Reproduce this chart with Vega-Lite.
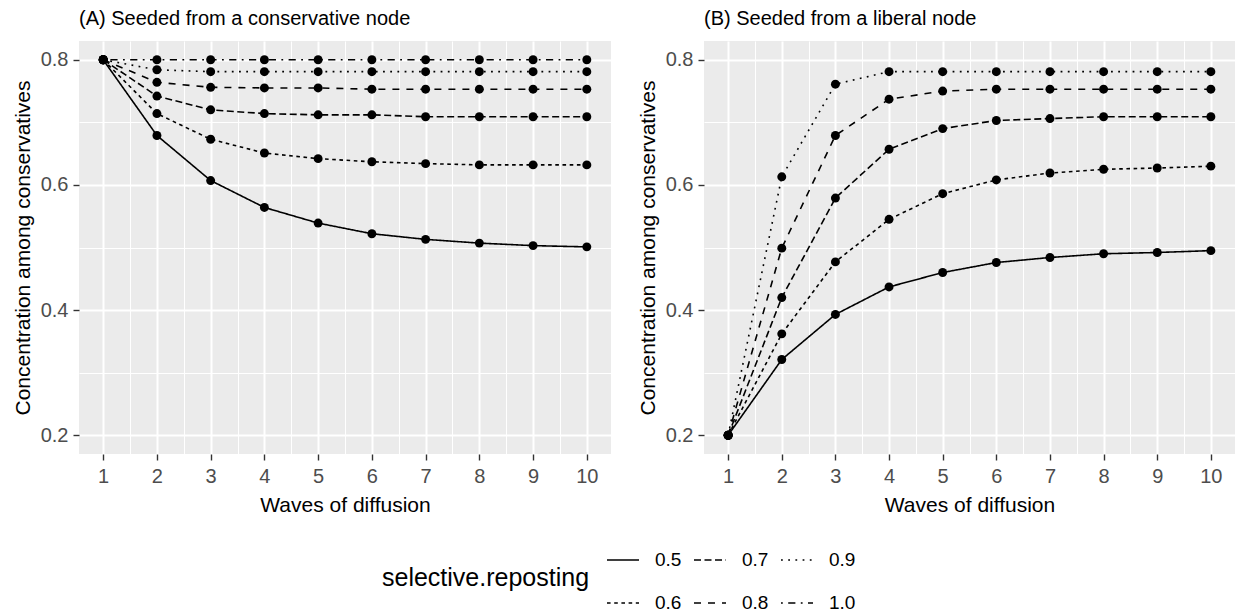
{
  "$schema": "https://vega.github.io/schema/vega-lite/v6.json",
  "padding": {"left": 12, "right": 0, "top": 9, "bottom": 5},
  "background": "white",
  "config": {
    "font": "Liberation Sans",
    "view": {"fill": "#EBEBEB", "stroke": null},
    "axis": {
      "domain": false,
      "labelColor": "#4D4D4D",
      "labelFontSize": 20,
      "labelFont": "Liberation Sans",
      "tickColor": "#333333",
      "tickSize": 6,
      "tickWidth": 1.4,
      "titleColor": "#000000",
      "titleFontSize": 21,
      "titleFontWeight": "normal",
      "titleFont": "Liberation Sans",
      "gridColor": "#FFFFFF"
    }
  },
  "data": {"values": [
    {"panel": "A", "wave": 1, "sr": "0.5", "v": 0.8}, {"panel": "A", "wave": 2, "sr": "0.5", "v": 0.679}, {"panel": "A", "wave": 3, "sr": "0.5", "v": 0.607}, {"panel": "A", "wave": 4, "sr": "0.5", "v": 0.564}, {"panel": "A", "wave": 5, "sr": "0.5", "v": 0.539}, {"panel": "A", "wave": 6, "sr": "0.5", "v": 0.522}, {"panel": "A", "wave": 7, "sr": "0.5", "v": 0.513}, {"panel": "A", "wave": 8, "sr": "0.5", "v": 0.507}, {"panel": "A", "wave": 9, "sr": "0.5", "v": 0.503}, {"panel": "A", "wave": 10, "sr": "0.5", "v": 0.501},
    {"panel": "A", "wave": 1, "sr": "0.6", "v": 0.8}, {"panel": "A", "wave": 2, "sr": "0.6", "v": 0.714}, {"panel": "A", "wave": 3, "sr": "0.6", "v": 0.673}, {"panel": "A", "wave": 4, "sr": "0.6", "v": 0.651}, {"panel": "A", "wave": 5, "sr": "0.6", "v": 0.642}, {"panel": "A", "wave": 6, "sr": "0.6", "v": 0.637}, {"panel": "A", "wave": 7, "sr": "0.6", "v": 0.634}, {"panel": "A", "wave": 8, "sr": "0.6", "v": 0.632}, {"panel": "A", "wave": 9, "sr": "0.6", "v": 0.632}, {"panel": "A", "wave": 10, "sr": "0.6", "v": 0.632},
    {"panel": "A", "wave": 1, "sr": "0.7", "v": 0.8}, {"panel": "A", "wave": 2, "sr": "0.7", "v": 0.742}, {"panel": "A", "wave": 3, "sr": "0.7", "v": 0.720}, {"panel": "A", "wave": 4, "sr": "0.7", "v": 0.714}, {"panel": "A", "wave": 5, "sr": "0.7", "v": 0.712}, {"panel": "A", "wave": 6, "sr": "0.7", "v": 0.712}, {"panel": "A", "wave": 7, "sr": "0.7", "v": 0.709}, {"panel": "A", "wave": 8, "sr": "0.7", "v": 0.709}, {"panel": "A", "wave": 9, "sr": "0.7", "v": 0.709}, {"panel": "A", "wave": 10, "sr": "0.7", "v": 0.709},
    {"panel": "A", "wave": 1, "sr": "0.8", "v": 0.8}, {"panel": "A", "wave": 2, "sr": "0.8", "v": 0.764}, {"panel": "A", "wave": 3, "sr": "0.8", "v": 0.756}, {"panel": "A", "wave": 4, "sr": "0.8", "v": 0.755}, {"panel": "A", "wave": 5, "sr": "0.8", "v": 0.755}, {"panel": "A", "wave": 6, "sr": "0.8", "v": 0.753}, {"panel": "A", "wave": 7, "sr": "0.8", "v": 0.753}, {"panel": "A", "wave": 8, "sr": "0.8", "v": 0.753}, {"panel": "A", "wave": 9, "sr": "0.8", "v": 0.753}, {"panel": "A", "wave": 10, "sr": "0.8", "v": 0.753},
    {"panel": "A", "wave": 1, "sr": "0.9", "v": 0.8}, {"panel": "A", "wave": 2, "sr": "0.9", "v": 0.784}, {"panel": "A", "wave": 3, "sr": "0.9", "v": 0.781}, {"panel": "A", "wave": 4, "sr": "0.9", "v": 0.781}, {"panel": "A", "wave": 5, "sr": "0.9", "v": 0.781}, {"panel": "A", "wave": 6, "sr": "0.9", "v": 0.781}, {"panel": "A", "wave": 7, "sr": "0.9", "v": 0.781}, {"panel": "A", "wave": 8, "sr": "0.9", "v": 0.781}, {"panel": "A", "wave": 9, "sr": "0.9", "v": 0.781}, {"panel": "A", "wave": 10, "sr": "0.9", "v": 0.781},
    {"panel": "A", "wave": 1, "sr": "1.0", "v": 0.8}, {"panel": "A", "wave": 2, "sr": "1.0", "v": 0.8}, {"panel": "A", "wave": 3, "sr": "1.0", "v": 0.8}, {"panel": "A", "wave": 4, "sr": "1.0", "v": 0.8}, {"panel": "A", "wave": 5, "sr": "1.0", "v": 0.8}, {"panel": "A", "wave": 6, "sr": "1.0", "v": 0.8}, {"panel": "A", "wave": 7, "sr": "1.0", "v": 0.8}, {"panel": "A", "wave": 8, "sr": "1.0", "v": 0.8}, {"panel": "A", "wave": 9, "sr": "1.0", "v": 0.8}, {"panel": "A", "wave": 10, "sr": "1.0", "v": 0.8},
    {"panel": "B", "wave": 1, "sr": "0.5", "v": 0.2}, {"panel": "B", "wave": 2, "sr": "0.5", "v": 0.321}, {"panel": "B", "wave": 3, "sr": "0.5", "v": 0.393}, {"panel": "B", "wave": 4, "sr": "0.5", "v": 0.437}, {"panel": "B", "wave": 5, "sr": "0.5", "v": 0.460}, {"panel": "B", "wave": 6, "sr": "0.5", "v": 0.476}, {"panel": "B", "wave": 7, "sr": "0.5", "v": 0.484}, {"panel": "B", "wave": 8, "sr": "0.5", "v": 0.490}, {"panel": "B", "wave": 9, "sr": "0.5", "v": 0.492}, {"panel": "B", "wave": 10, "sr": "0.5", "v": 0.495},
    {"panel": "B", "wave": 1, "sr": "0.6", "v": 0.2}, {"panel": "B", "wave": 2, "sr": "0.6", "v": 0.362}, {"panel": "B", "wave": 3, "sr": "0.6", "v": 0.477}, {"panel": "B", "wave": 4, "sr": "0.6", "v": 0.545}, {"panel": "B", "wave": 5, "sr": "0.6", "v": 0.586}, {"panel": "B", "wave": 6, "sr": "0.6", "v": 0.608}, {"panel": "B", "wave": 7, "sr": "0.6", "v": 0.619}, {"panel": "B", "wave": 8, "sr": "0.6", "v": 0.625}, {"panel": "B", "wave": 9, "sr": "0.6", "v": 0.627}, {"panel": "B", "wave": 10, "sr": "0.6", "v": 0.630},
    {"panel": "B", "wave": 1, "sr": "0.7", "v": 0.2}, {"panel": "B", "wave": 2, "sr": "0.7", "v": 0.420}, {"panel": "B", "wave": 3, "sr": "0.7", "v": 0.579}, {"panel": "B", "wave": 4, "sr": "0.7", "v": 0.657}, {"panel": "B", "wave": 5, "sr": "0.7", "v": 0.690}, {"panel": "B", "wave": 6, "sr": "0.7", "v": 0.703}, {"panel": "B", "wave": 7, "sr": "0.7", "v": 0.706}, {"panel": "B", "wave": 8, "sr": "0.7", "v": 0.709}, {"panel": "B", "wave": 9, "sr": "0.7", "v": 0.709}, {"panel": "B", "wave": 10, "sr": "0.7", "v": 0.709},
    {"panel": "B", "wave": 1, "sr": "0.8", "v": 0.2}, {"panel": "B", "wave": 2, "sr": "0.8", "v": 0.499}, {"panel": "B", "wave": 3, "sr": "0.8", "v": 0.679}, {"panel": "B", "wave": 4, "sr": "0.8", "v": 0.737}, {"panel": "B", "wave": 5, "sr": "0.8", "v": 0.750}, {"panel": "B", "wave": 6, "sr": "0.8", "v": 0.753}, {"panel": "B", "wave": 7, "sr": "0.8", "v": 0.753}, {"panel": "B", "wave": 8, "sr": "0.8", "v": 0.753}, {"panel": "B", "wave": 9, "sr": "0.8", "v": 0.753}, {"panel": "B", "wave": 10, "sr": "0.8", "v": 0.753},
    {"panel": "B", "wave": 1, "sr": "0.9", "v": 0.2}, {"panel": "B", "wave": 2, "sr": "0.9", "v": 0.613}, {"panel": "B", "wave": 3, "sr": "0.9", "v": 0.761}, {"panel": "B", "wave": 4, "sr": "0.9", "v": 0.781}, {"panel": "B", "wave": 5, "sr": "0.9", "v": 0.781}, {"panel": "B", "wave": 6, "sr": "0.9", "v": 0.781}, {"panel": "B", "wave": 7, "sr": "0.9", "v": 0.781}, {"panel": "B", "wave": 8, "sr": "0.9", "v": 0.781}, {"panel": "B", "wave": 9, "sr": "0.9", "v": 0.781}, {"panel": "B", "wave": 10, "sr": "0.9", "v": 0.781}
  ]},
  "resolve": {"scale": {"strokeDash": "shared"}, "legend": {"strokeDash": "shared"}},
  "spacing": 26,
  "hconcat": [
    {
      "width": 532, "height": 413,
      "title": {"text": "(A) Seeded from a conservative node", "anchor": "start", "frame": "group", "fontSize": 20, "fontWeight": "normal", "font": "Liberation Sans", "color": "#000000", "offset": 12},
      "transform": [{"filter": "datum.panel == 'A'"}],
      "encoding": {
        "x": {"field": "wave", "type": "quantitative", "title": "Waves of diffusion",
          "scale": {"domain": [0.55, 10.45], "nice": false, "zero": false},
          "axis": {"values": [1, 1.5, 2, 2.5, 3, 3.5, 4, 4.5, 5, 5.5, 6, 6.5, 7, 7.5, 8, 8.5, 9, 9.5, 10],
            "labelExpr": "datum.value % 1 == 0 ? format(datum.value, 'd') : ''",
            "tickOpacity": {"condition": {"test": "datum.value % 1 == 0", "value": 1}, "value": 0},
            "gridWidth": {"condition": {"test": "datum.value % 1 == 0", "value": 2}, "value": 1},
            "labelFlush": false, "labelOverlap": false, "labelPadding": 6, "titlePadding": 8}},
        "y": {"field": "v", "type": "quantitative", "title": "Concentration among conservatives",
          "scale": {"domain": [0.17, 0.83], "nice": false, "zero": false},
          "axis": {"values": [0.2, 0.3, 0.4, 0.5, 0.6, 0.7, 0.8],
            "labelExpr": "round(datum.value * 10) % 2 == 0 ? format(datum.value, '.1f') : ''",
            "tickOpacity": {"condition": {"test": "round(datum.value * 10) % 2 == 0", "value": 1}, "value": 0},
            "gridWidth": {"condition": {"test": "round(datum.value * 10) % 2 == 0", "value": 2}, "value": 1},
            "labelFlush": false, "labelOverlap": false, "labelPadding": 5, "titlePadding": 7}},
        "strokeDash": {"field": "sr", "type": "nominal", "title": "selective.reposting",
          "scale": {"domain": ["0.5", "0.7", "0.9", "0.6", "0.8", "1.0"],
            "range": [[1, 0], [7, 3.5], [1.8, 5.4], [3.6, 3.6], [7, 7], [1.8, 5.4, 7.2, 5.4]]}},
        "detail": {"field": "sr"}
      },
      "layer": [
        {"mark": {"type": "line", "color": "#000000", "strokeWidth": 1.6}},
        {"mark": {"type": "circle", "color": "#000000", "opacity": 1, "size": 80}, "encoding": {"strokeDash": {"value": [1, 0]}}}
      ]
    },
    {
      "width": 531, "height": 413,
      "title": {"text": "(B) Seeded from a liberal node", "anchor": "start", "frame": "group", "fontSize": 20, "fontWeight": "normal", "font": "Liberation Sans", "color": "#000000", "offset": 12},
      "transform": [{"filter": "datum.panel == 'B'"}],
      "encoding": {
        "x": {"field": "wave", "type": "quantitative", "title": "Waves of diffusion",
          "scale": {"domain": [0.55, 10.45], "nice": false, "zero": false},
          "axis": {"values": [1, 1.5, 2, 2.5, 3, 3.5, 4, 4.5, 5, 5.5, 6, 6.5, 7, 7.5, 8, 8.5, 9, 9.5, 10],
            "labelExpr": "datum.value % 1 == 0 ? format(datum.value, 'd') : ''",
            "tickOpacity": {"condition": {"test": "datum.value % 1 == 0", "value": 1}, "value": 0},
            "gridWidth": {"condition": {"test": "datum.value % 1 == 0", "value": 2}, "value": 1},
            "labelFlush": false, "labelOverlap": false, "labelPadding": 6, "titlePadding": 8}},
        "y": {"field": "v", "type": "quantitative", "title": "Concentration among conservatives",
          "scale": {"domain": [0.17, 0.83], "nice": false, "zero": false},
          "axis": {"values": [0.2, 0.3, 0.4, 0.5, 0.6, 0.7, 0.8],
            "labelExpr": "round(datum.value * 10) % 2 == 0 ? format(datum.value, '.1f') : ''",
            "tickOpacity": {"condition": {"test": "round(datum.value * 10) % 2 == 0", "value": 1}, "value": 0},
            "gridWidth": {"condition": {"test": "round(datum.value * 10) % 2 == 0", "value": 2}, "value": 1},
            "labelFlush": false, "labelOverlap": false, "labelPadding": 5, "titlePadding": 7}},
        "strokeDash": {"field": "sr", "type": "nominal", "title": "selective.reposting",
          "scale": {"domain": ["0.5", "0.7", "0.9", "0.6", "0.8", "1.0"],
            "range": [[1, 0], [7, 3.5], [1.8, 5.4], [3.6, 3.6], [7, 7], [1.8, 5.4, 7.2, 5.4]]},
          "legend": {"orient": "none", "legendX": 303, "legendY": 502, "columns": 3, "direction": "horizontal",
            "titleOrient": "left", "titleFontSize": 25, "titleFontWeight": "normal", "titleColor": "#000000", "titleFont": "Liberation Sans",
            "titleBaseline": "middle", "titleAnchor": "middle", "titlePadding": 16, "titleLimit": 400,
            "labelFontSize": 19, "labelColor": "#000000", "labelFont": "Liberation Sans", "labelOffset": 15,
            "symbolType": "stroke", "symbolSize": 1024, "symbolStrokeWidth": 1.6, "symbolStrokeColor": "#000000",
            "columnPadding": 8, "rowPadding": 16}},
        "detail": {"field": "sr"}
      },
      "layer": [
        {"mark": {"type": "line", "color": "#000000", "strokeWidth": 1.6}},
        {"mark": {"type": "circle", "color": "#000000", "opacity": 1, "size": 80}, "encoding": {"strokeDash": {"value": [1, 0]}}}
      ]
    }
  ]
}
